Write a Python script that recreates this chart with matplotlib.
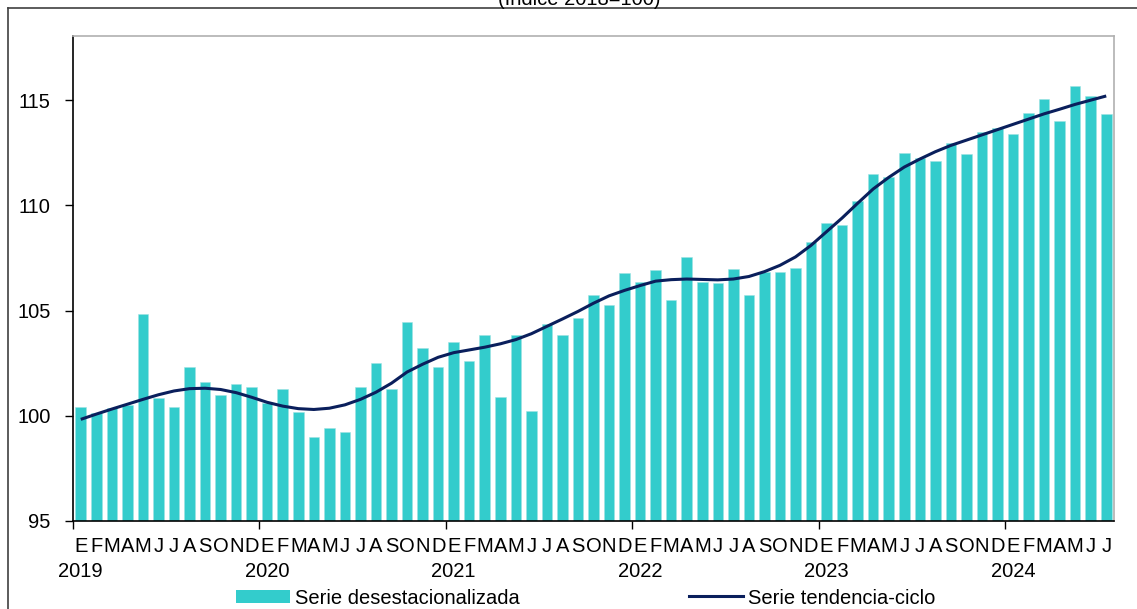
import matplotlib
matplotlib.use("Agg")
import matplotlib.pyplot as plt
from matplotlib.lines import Line2D
from matplotlib import font_manager
import numpy as np

names = {f.name for f in font_manager.fontManager.ttflist}
if 'Liberation Sans Narrow' in names:
    plt.rcParams['font.family'] = ['Liberation Sans Narrow', 'DejaVu Sans']
    FS = 17
else:
    plt.rcParams['font.family'] = ['Liberation Sans', 'DejaVu Sans']
    FS = 14.5

years = ["2019", "2020", "2021", "2022", "2023", "2024"]
month_letters = ["E", "F", "M", "A", "M", "J", "J", "A", "S", "O", "N", "D"]

desestacionalizada = [
    100.41, 100.11, 100.39, 100.52, 104.83, 100.84, 100.44, 102.32, 101.62, 100.98, 101.50, 101.39,
    100.63, 101.26, 100.19, 98.99, 99.41, 99.25, 101.39, 102.49, 101.28, 104.47, 103.24, 102.34,
    103.49, 102.62, 103.82, 100.90, 103.82, 100.24, 104.36, 103.82, 104.67, 105.72, 105.27, 106.78,
    106.35, 106.93, 105.51, 107.57, 106.35, 106.30, 106.99, 105.75, 106.84, 106.84, 107.01, 108.26,
    109.16, 109.09, 110.20, 111.48, 111.37, 112.48, 112.26, 112.10, 112.97, 112.46, 113.49, 113.68,
    113.39, 114.37, 115.07, 113.99, 115.65, 115.21, 114.36,
]

tendencia = [
    99.83, 100.08, 100.32, 100.55, 100.78, 101.00, 101.18, 101.29, 101.31, 101.25, 101.10, 100.88,
    100.64, 100.46, 100.34, 100.30, 100.36, 100.52, 100.78, 101.12, 101.55, 102.08, 102.45, 102.78,
    103.00, 103.13, 103.26, 103.42, 103.62, 103.90, 104.25, 104.60, 104.96, 105.35, 105.70, 105.96,
    106.19, 106.40, 106.47, 106.50, 106.48, 106.46, 106.50, 106.62, 106.85, 107.15, 107.55, 108.10,
    108.75, 109.40, 110.10, 110.78, 111.33, 111.82, 112.20, 112.55, 112.85, 113.10, 113.35, 113.60,
    113.85, 114.10, 114.35, 114.57, 114.80, 115.00, 115.20,
]

y_ticks = [95, 100, 105, 110, 115]

n = len(desestacionalizada)
x = np.arange(n)

fig = plt.figure(figsize=(11.37, 6.09), dpi=100)
ax = fig.add_axes([73/1137, 1 - 521/609, (1114 - 73)/1137, (521 - 36)/609])

bar_color = '#33CCCC'
line_color = '#0A1F5C'

ax.bar(x, [v - 95 for v in desestacionalizada], bottom=95, width=0.68,
       color=bar_color, edgecolor='#9FE3E3', linewidth=0.4, zorder=2)
ax.plot(x, tendencia, color=line_color, linewidth=2.2, zorder=3,
        solid_capstyle='butt')

ax.set_xlim(-0.5, n - 0.5)
ax.set_ylim(95, 118.05)

ax.set_yticks(y_ticks)
ax.set_yticklabels([str(t) for t in y_ticks], fontsize=FS)
ax.tick_params(axis='y', direction='out', length=6, width=1, pad=10, colors='black')

major = [12 * k - 0.5 for k in range(len(years))]
ax.set_xticks(major)
ax.set_xticklabels([''] * len(major))
ax.tick_params(axis='x', which='major', direction='out', length=6, width=1)

# month letters and years
for i in range(n):
    ax.text(i, -0.053, month_letters[i % 12], transform=ax.get_xaxis_transform(),
            ha='center', va='center', fontsize=FS)
for k, yr in enumerate(years):
    ax.text(12 * k, -0.105, yr, transform=ax.get_xaxis_transform(),
            ha='center', va='center', fontsize=FS)

for s in ['left', 'bottom']:
    ax.spines[s].set_color('black')
    ax.spines[s].set_linewidth(1.2)
for s in ['top', 'right']:
    ax.spines[s].set_color('#B0B0B0')
    ax.spines[s].set_linewidth(1.2)

# title (clipped at the top as in the reference)
fig.text(579/1137, 1 - 5/609, "(Índice 2018=100)", ha='center', va='baseline', fontsize=FS)

# outer frame lines
fig.add_artist(Line2D([8/1137, 1.0], [1 - 8/609, 1 - 8/609], transform=fig.transFigure,
                      color='#404040', linewidth=1.2))
fig.add_artist(Line2D([8/1137, 8/1137], [0.0, 1 - 8/609], transform=fig.transFigure,
                      color='#404040', linewidth=1.2))

leg_y = 1 - 598/609
h1 = plt.Rectangle((0, 0), 1, 1, facecolor=bar_color, edgecolor='none')
h2 = Line2D([0], [0], color=line_color, linewidth=2.2)
leg1 = fig.legend([h1], ["Serie desestacionalizada"], loc='center left',
                  bbox_to_anchor=(236/1137, leg_y), frameon=False, fontsize=FS,
                  handlelength=2.7, handleheight=0.6, handletextpad=0.25,
                  borderpad=0, borderaxespad=0)
leg2 = fig.legend([h2], ["Serie tendencia-ciclo"], loc='center left',
                  bbox_to_anchor=(689/1137, leg_y), frameon=False, fontsize=FS,
                  handlelength=2.7, handletextpad=0.25,
                  borderpad=0, borderaxespad=0)

fig.savefig("out.png", dpi=100)
